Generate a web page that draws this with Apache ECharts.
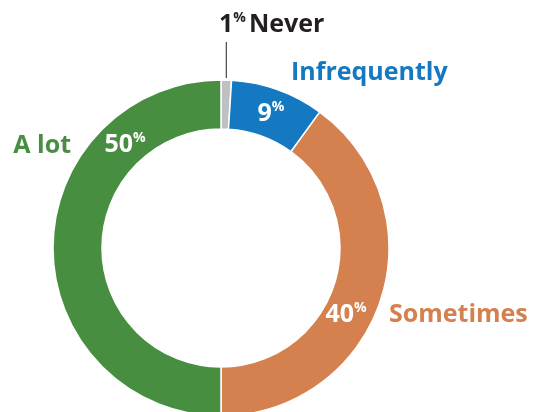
<!DOCTYPE html>
<html><head><meta charset="utf-8">
<script src="https://cdn.jsdelivr.net/npm/echarts@6/dist/echarts.min.js"></script>
<style>html,body{margin:0;padding:0;background:#fff}#c{width:534px;height:412px}</style>
</head><body><div id="c"></div>
<script>
const categories = ['Never', 'Infrequently', 'Sometimes', 'A lot'];
const values = [1, 9, 40, 50];
const colors = ['#bfc0c2', '#1479c0', '#d4804f', '#478e41'];

// label placement (layout only, not data)
const CX = 221, CY = 248, R0 = 119, R1 = 168;
const pctAnchor = [null, [271, 114], [346, 315], [125, 145]];
const nameAnchor = [[219, 25, 'left'], [291, 73, 'left'], [389, 315, 'left'], [71, 146, 'right']];

const FONT = '"Open Sans", sans-serif';
const chart = echarts.init(document.getElementById('c'), null, {renderer: 'canvas'});

const total = values.reduce((a, b) => a + b, 0);
const ringData = categories.map((c, i) => ({name: c, value: values[i], itemStyle: {color: colors[i]}}));
const nameData = categories.map((c, i) => ({name: c, value: values[i], labelLine: {show: i === 0}}));

chart.setOption({
  animation: false,
  series: [
    {
      type: 'pie',
      center: [CX, CY],
      radius: [R0, R1],
      startAngle: 90,
      clockwise: true,
      silent: true,
      itemStyle: {borderColor: '#fff', borderWidth: 1.5},
      data: ringData,
      label: {
        show: true,
        position: 'inside',
        overflow: 'none',
        formatter: p => p.dataIndex === 0 ? '' : `{n|${p.value}}{p|%}`,
        rich: {
          n: {fontFamily: FONT, fontSize: 25, fontWeight: 'bold', color: '#fff', lineHeight: 27},
          p: {fontFamily: FONT, fontSize: 14, fontWeight: 'bold', color: '#fff', verticalAlign: 'top', lineHeight: 14}
        }
      },
      labelLine: {show: false},
      labelLayout: p => {
        const a = pctAnchor[p.dataIndex];
        if (!a) return {};
        return {x: a[0], y: a[1], align: 'center', verticalAlign: 'middle'};
      }
    },
    {
      type: 'pie',
      center: [CX, CY],
      radius: [R0, R1],
      startAngle: 90,
      clockwise: true,
      silent: true,
      avoidLabelOverlap: false,
      itemStyle: {color: 'rgba(0,0,0,0)', borderWidth: 0},
      data: nameData,
      label: {
        show: true,
        position: 'outside',
        overflow: 'none',
        alignTo: 'none',
        formatter: p => p.dataIndex === 0 ? `{n|${p.value}}{p|%}{s| }{t|${p.name}}` : `{c${p.dataIndex}|${p.name}}`,
        rich: {
          n: {fontFamily: FONT, fontSize: 25, fontWeight: 'bold', color: '#231f20', lineHeight: 28},
          p: {fontFamily: FONT, fontSize: 14, fontWeight: 'bold', color: '#231f20', verticalAlign: 'top', lineHeight: 14},
          s: {fontFamily: FONT, fontSize: 12},
          t: {fontFamily: FONT, fontSize: 25, fontWeight: 'bold', color: '#231f20', lineHeight: 28},
          c1: {fontFamily: FONT, fontSize: 25, fontWeight: 'bold', color: colors[1]},
          c2: {fontFamily: FONT, fontSize: 25, fontWeight: 'bold', color: colors[2]},
          c3: {fontFamily: FONT, fontSize: 25, fontWeight: 'bold', color: colors[3]}
        }
      },
      labelLine: {show: true, lineStyle: {color: '#231f20', width: 1}},
      labelLayout: p => {
        const i = p.dataIndex;
        const a = nameAnchor[i];
        const out = {x: a[0], y: a[1], align: a[2], verticalAlign: 'middle'};
        if (i === 0) {
          const mid = (values[0] / total) * Math.PI; // half of slice angle (radians) from top
          const lx = CX + R1 * Math.sin(mid);
          const ly = CY - R1 * Math.cos(mid);
          out.labelLinePoints = [[lx, ly - 2], [lx, ly - 2], [lx, 42]];
        }
        return out;
      }
    }
  ]
});
</script></body></html>
